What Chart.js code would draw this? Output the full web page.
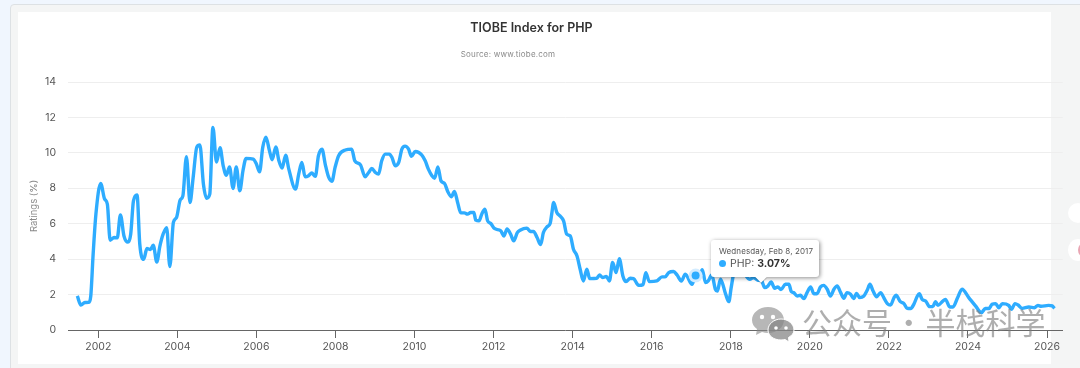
<!DOCTYPE html>
<html>
<head>
<meta charset="utf-8">
<title>TIOBE Index for PHP</title>
<script src="https://cdn.jsdelivr.net/npm/chart.js@4"></script>
<style>
    html, body { margin: 0; padding: 0; width: 1080px; height: 368px; overflow: hidden; background: #f0f6fe; font-family: Inter, sans-serif; }
    .card { position: absolute; left: 10px; top: 4px; width: 1080px; height: 380px; background: #f4f5f5; border: 1px solid #dde1e4; border-radius: 4px; box-sizing: border-box; }
    .folha { position: absolute; left: 18px; top: 12px; width: 1033px; height: 352px; background: #fff; }
    #grafico { position: absolute; left: 0; top: 0; }
    .fonte { position: absolute; left: 408px; width: 200px; top: 49px; text-align: center; font-size: 8px; letter-spacing: 0.2px; color: #8a8a8a; }
    .dica { position: absolute; left: 711px; top: 240px; width: 108px; height: 37px; box-sizing: border-box; padding: 5.5px 8px; background: #fff; border-radius: 3px; box-shadow: 1px 1px 4px rgba(0,0,0,.45); color: #555; white-space: nowrap; }
    .dica::after { content: ""; position: absolute; left: 46px; bottom: -4px; width: 8px; height: 8px; background: #fff; transform: rotate(45deg); box-shadow: 1px 1px 1px rgba(0,0,0,.2); }
    .dica .data { font-size: 8px; line-height: 11px; letter-spacing: 0.1px; }
    .dica .valor { font-size: 10.5px; line-height: 14px; }
    .dica .valor i { display: inline-block; width: 7px; height: 7px; margin-right: 4px; border-radius: 50%; background: #2eacff; }
    .dica .valor b { color: #333; }
    .marca { position: absolute; left: 802px; top: 299px; font-family: "Noto Sans CJK SC", sans-serif; font-size: 30px; line-height: 44px; word-spacing: -5px; color: rgba(125,125,125,.62); white-space: nowrap; }
    .icone { position: absolute; left: 751px; top: 306px; }
    .bolha { position: absolute; border-radius: 50%; }
</style>
</head>
<body>
<div class="card"></div>
<div class="folha"></div>
<div class="bolha" style="left:1068px;top:203px;width:20px;height:20px;background:#fff"></div>
<div class="bolha" style="left:1068px;top:239px;width:20px;height:22px;background:#fff"></div>
<div class="bolha" style="left:1078px;top:243px;width:12px;height:14px;background:#e9a6b4"></div>
<canvas id="grafico" width="1063" height="368" style="width:1063px;height:368px"></canvas>
<div class="fonte">Source: www.tiobe.com</div>
<div class="dica" id="dica"></div>
<svg class="icone" width="44" height="36" viewBox="0 0 44 36">
    <path d="M17 1C8 1 1 7 1 14c0 4 2 7 5 9l-1 6 6-3c2 .5 4 1 6 1 9 0 16-6 16-13S26 1 17 1z" fill="rgba(135,135,135,.6)"/>
    <path d="M30 13c-7 0-13 5-13 11s6 10 13 10c1.500 0 3-.2 4-.5l4 2.500-.5-4.500c3.500-2 5.500-4.500 5.500-7.500 0-6-6-11-13-11z" fill="rgba(135,135,135,.75)" stroke="#fff" stroke-width="1"/>
    <circle cx="11" cy="11" r="2.200" fill="#fff"/><circle cx="22" cy="11" r="2.200" fill="#fff"/>
    <circle cx="25" cy="22" r="1.800" fill="#fff"/><circle cx="35" cy="22" r="1.800" fill="#fff"/>
</svg>
<div class="marca">公众号 · 半栈科学</div>

<script>
// ===== DADOS =====
const anos = [
    2001.47, 2001.56, 2001.66, 2001.76, 2001.81, 2001.87, 2001.94, 2002.06, 2002.16, 2002.23, 2002.30, 2002.40, 2002.48, 2002.56, 2002.65, 2002.75, 2002.82, 2002.89, 2002.98,
    2003.05, 2003.15, 2003.23, 2003.32, 2003.39, 2003.48, 2003.56, 2003.64, 2003.73, 2003.81, 2003.90, 2003.98,
    2004.07, 2004.14, 2004.23, 2004.32, 2004.40, 2004.49, 2004.57, 2004.66, 2004.74, 2004.82, 2004.90, 2004.99,
    2005.08, 2005.16, 2005.24, 2005.32, 2005.41, 2005.49, 2005.58, 2005.66, 2005.74, 2005.92, 2006.00,
    2006.08, 2006.16, 2006.24, 2006.33, 2006.40, 2006.49, 2006.57, 2006.65, 2006.74, 2006.82, 2006.99,
    2007.07, 2007.15, 2007.23, 2007.32, 2007.40, 2007.49, 2007.57, 2007.66, 2007.74, 2007.83, 2007.91, 2007.99,
    2008.08, 2008.25, 2008.41, 2008.49, 2008.63, 2008.75, 2008.84, 2008.92,
    2009.01, 2009.09, 2009.17, 2009.26, 2009.36, 2009.43, 2009.51, 2009.60, 2009.68, 2009.76, 2009.85, 2009.92,
    2010.02, 2010.18, 2010.27, 2010.35, 2010.44, 2010.51, 2010.59, 2010.67, 2010.76, 2010.84, 2010.93,
    2011.01, 2011.09, 2011.17, 2011.26, 2011.34, 2011.42, 2011.50, 2011.55, 2011.63, 2011.70, 2011.78, 2011.85, 2011.93,
    2012.02, 2012.18, 2012.26, 2012.34, 2012.43, 2012.51, 2012.60, 2012.67, 2012.84, 2012.93,
    2013.01, 2013.10, 2013.19, 2013.26, 2013.35, 2013.43, 2013.47, 2013.52, 2013.60, 2013.68, 2013.77, 2013.85, 2013.94,
    2014.02, 2014.11, 2014.19, 2014.27, 2014.36, 2014.43, 2014.61, 2014.68, 2014.76, 2014.85, 2014.93,
    2015.01, 2015.10, 2015.18, 2015.27, 2015.35, 2015.46, 2015.54, 2015.67, 2015.78, 2015.85, 2015.94,
    2016.13, 2016.26, 2016.34, 2016.43, 2016.55, 2016.64, 2016.75, 2016.85,
    2017.02, 2017.11, 2017.18, 2017.28, 2017.36, 2017.43, 2017.52, 2017.61, 2017.66, 2017.74, 2017.87, 2017.95,
    2018.01, 2018.08, 2018.20, 2018.30, 2018.37, 2018.48, 2018.58, 2018.68, 2018.77, 2018.86, 2018.94,
    2019.02, 2019.11, 2019.19, 2019.27, 2019.38, 2019.47, 2019.53, 2019.59, 2019.68, 2019.76, 2019.85, 2019.93,
    2020.02, 2020.10, 2020.18, 2020.27, 2020.35, 2020.44, 2020.52, 2020.61, 2020.69, 2020.78, 2020.86, 2020.94,
    2021.03, 2021.11, 2021.18, 2021.26, 2021.36, 2021.45, 2021.52, 2021.60, 2021.69, 2021.79, 2021.87, 2021.96,
    2022.04, 2022.13, 2022.18, 2022.29, 2022.38, 2022.46, 2022.55, 2022.63, 2022.72, 2022.77, 2022.84, 2022.93,
    2023.03, 2023.11, 2023.18, 2023.24, 2023.35, 2023.43, 2023.54, 2023.62, 2023.74, 2023.85,
    2024.02, 2024.19, 2024.34, 2024.44, 2024.53, 2024.61, 2024.70, 2024.78, 2024.87,
    2025.03, 2025.10, 2025.19, 2025.27, 2025.37, 2025.54, 2025.68, 2025.77, 2025.85, 2026.04, 2026.13, 2026.19
];

const notas = [
    1.92, 1.41, 1.55, 1.56, 1.92, 4.28, 6.54, 8.27, 7.39, 7.10, 5.07, 5.22, 5.20, 6.50, 5.31, 4.96, 5.41, 7.29, 7.63,
    4.84, 3.99, 4.60, 4.54, 4.79, 3.84, 4.75, 5.41, 5.78, 3.58, 6.07, 6.35,
    7.33, 7.57, 9.78, 7.20, 8.61, 10.31, 10.44, 8.23, 7.44, 7.67, 11.44, 9.48,
    10.29, 9.27, 8.74, 9.21, 7.99, 9.21, 7.86, 8.99, 9.69, 9.65, 9.37,
    8.93, 10.31, 10.89, 10.12, 9.61, 10.34, 9.55, 9.14, 9.87, 9.08, 7.95,
    8.80, 9.46, 8.65, 8.71, 8.86, 8.67, 9.84, 10.21, 9.37, 8.61, 8.40, 9.18,
    9.84, 10.16, 10.21, 9.55, 9.33, 8.65, 8.89, 9.12,
    8.89, 8.80, 9.55, 9.93, 9.93, 9.74, 9.27, 9.46, 10.21, 10.38, 10.21, 9.80,
    10.08, 9.89, 9.55, 9.08, 8.71, 8.57, 9.21, 8.42, 8.27, 7.82, 7.52,
    7.82, 7.20, 6.61, 6.61, 6.54, 6.63, 6.63, 6.20, 6.16, 6.54, 6.82, 6.16, 6.01,
    5.73, 5.60, 5.31, 5.71, 5.41, 5.03, 5.50, 5.63, 5.75, 5.56,
    5.56, 5.22, 4.82, 5.50, 5.82, 6.01, 6.54, 7.20, 6.63, 6.44, 6.16, 5.41, 5.31,
    4.56, 4.18, 3.43, 2.77, 3.43, 2.90, 2.92, 3.11, 2.96, 3.03, 2.77,
    3.81, 3.24, 4.03, 3.05, 2.73, 2.92, 2.90, 2.52, 2.56, 3.24, 2.73,
    2.77, 3.00, 3.00, 3.24, 3.30, 3.11, 2.77, 3.15,
    2.58, 3.07, 3.00, 3.41, 2.68, 2.77, 3.11, 2.30, 2.20, 2.87, 2.02, 1.60,
    2.39, 3.24, 3.50, 3.40, 3.11, 2.86, 2.96, 2.81, 2.81, 2.39, 2.49,
    2.71, 2.36, 2.43, 2.28, 2.58, 2.58, 2.17, 2.11, 1.92, 1.96, 1.77, 2.11,
    2.43, 2.05, 2.05, 2.43, 2.52, 2.30, 1.92, 2.30, 2.49, 2.11, 1.79, 2.11,
    2.02, 1.77, 2.07, 1.83, 1.90, 2.24, 2.58, 2.20, 1.88, 2.11, 1.83, 1.49,
    1.41, 1.83, 1.96, 1.60, 1.49, 1.22, 1.21, 1.45, 1.92, 2.05, 1.73, 1.64,
    1.32, 1.32, 1.60, 1.39, 1.60, 1.73, 1.30, 1.30, 1.83, 2.30,
    1.83, 1.36, 0.98, 1.22, 1.21, 1.45, 1.49, 1.26, 1.49,
    1.39, 1.17, 1.49, 1.41, 1.22, 1.30, 1.26, 1.39, 1.34, 1.39, 1.36, 1.22
];

const anoDestaque = 2017.11;
const notaDestaque = 3.07;
const dataDestaque = "Wednesday, Feb 8, 2017";
const azul = "#2eacff";

// ===== TOOLTIP =====
function desenharDica() {
    document.getElementById("dica").innerHTML = `
        <div class="data">${dataDestaque}</div>
        <div class="valor"><i></i>PHP: <b>${notaDestaque.toFixed(2)}%</b></div>
    `;
}

// ===== GRÁFICO =====
const grafico = new Chart(document.getElementById("grafico"), {
    type: "line",
    data: {
        datasets: [{
            // miolo do ponto por cima do halo
            label: "destaque",
            data: [{ x: anoDestaque, y: notaDestaque }],
            order: -2,
            showLine: false,
            pointRadius: 4,
            pointBorderWidth: 0,
            pointBackgroundColor: azul
        }, {
            label: "halo",
            data: [{ x: anoDestaque, y: notaDestaque }],
            order: -1,
            showLine: false,
            pointRadius: 7,
            pointBorderWidth: 0,
            pointBackgroundColor: "#d3ecff"
        }, {
            label: "PHP",
            data: anos.map((ano, i) => ({ x: ano, y: notas[i] })),
            borderColor: azul,
            backgroundColor: azul,
            borderWidth: 3.4,
            cubicInterpolationMode: "monotone",
            pointRadius: 0
        }]
    },
    options: {
        responsive: false,
        animation: false,
        events: [],
        layout: { autoPadding: false },
        plugins: {
            legend: { display: false },
            tooltip: { enabled: false },
            title: {
                display: true,
                text: "TIOBE Index for PHP",
                color: "#333",
                font: { family: "Inter", size: 12.5, weight: "600" },
                padding: { top: 21, bottom: 46 }
            }
        },
        scales: {
            x: {
                type: "linear",
                min: 2001.234,
                max: 2026.4,
                grid: { drawOnChartArea: false, drawTicks: true, tickLength: 8, tickColor: "#666" },
                border: { color: "#666", width: 1 },
                afterFit: (escala) => { escala.height = 38; },
                ticks: {
                    stepSize: 2,
                    includeBounds: false,
                    autoSkip: false,
                    maxRotation: 0,
                    padding: 3,
                    color: "#555",
                    font: { family: "Inter", size: 10.5 },
                    callback: (v) => String(v)
                }
            },
            y: {
                min: 0,
                max: 14,
                grid: { color: "#eeeeee", drawTicks: false },
                border: { display: false },
                afterFit: (escala) => { escala.width = 68; },
                title: {
                    display: true,
                    text: "Ratings (%)",
                    color: "#888",
                    font: { family: "Inter", size: 9.5 },
                    padding: { top: 28, bottom: 0 }
                },
                ticks: {
                    stepSize: 2,
                    padding: 12,
                    color: "#555",
                    font: { family: "Inter", size: 10.5 }
                }
            }
        }
    }
});

desenharDica();
</script>
</body>
</html>
